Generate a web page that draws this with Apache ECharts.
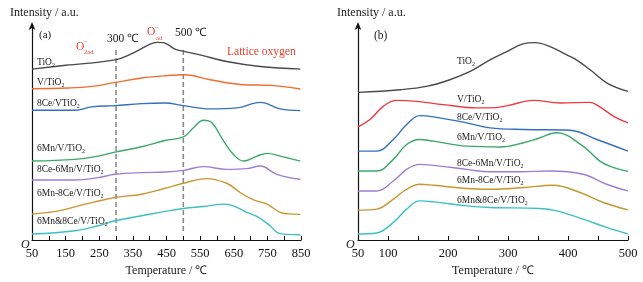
<!DOCTYPE html>
<html><head><meta charset="utf-8">
<script src="https://cdn.jsdelivr.net/npm/echarts@6/dist/echarts.min.js"></script>
<style>html,body{margin:0;padding:0;background:#fff}#c{width:643px;height:282px}</style>
</head><body><div id="c"></div>
<script>
// ---- Data (temperature ℃, intensity a.u. offset-stacked) ----
const xTicksA = [50,150,250,350,450,550,650,750,850];
const xTicksB = [50,100,200,300,400,500];
const namesA = ['TiO2','V/TiO2','8Ce/VTiO2','6Mn/V/TiO2','8Ce-6Mn/V/TiO2','6Mn-8Ce/V/TiO2','6Mn&8Ce/V/TiO2'];
const namesB = ['TiO2','V/TiO2','8Ce/V/TiO2','6Mn/V/TiO2','8Ce-6Mn/V/TiO2','6Mn-8Ce/V/TiO2','6Mn&8Ce/V/TiO2'];

const a_TiO2 = [[50,171.7],[150,175.5],[297,181],[350,187.7],[401,196.7],[422,198.5],[440,198.3],[458,195.5],[475,191.8],[505,189.3],[550,186],[629,179.3],[729,174.3],[848,171.7]];
const a_V = [[50,152],[157,152.7],[228,154.3],[297,158.3],[376,162.7],[446,165],[505,166],[580,161],[678,156],[758,155.3],[848,151.7]];
const a_Ce = [[50,130.3],[178,130.3],[228,133.7],[297,135],[376,137],[446,137.7],[500,135],[580,131.7],[659,132.7],[729,138.3],[788,131.7],[848,130]];
const a_Mn = [[50,79.3],[178,81],[247,84.3],[297,88.3],[376,93.7],[446,100],[500,103.5],[530,112.7],[560,120.3],[585,117.7],[620,99.3],[649,86],[679,79.3],[719,84.3],[749,87],[788,84.3],[848,79.3]];
const a_CeMn = [[50,60.3],[178,60.3],[247,62.7],[297,66],[376,67.7],[446,68.3],[500,70],[560,73.7],[629,71],[689,71.7],[729,74.3],[778,66],[848,61]];
const a_MnCe = [[50,26],[128,29.3],[208,36],[297,42.7],[376,46],[446,52],[500,57],[570,61.7],[629,57],[669,47.7],[709,40.3],[749,36],[788,27.7],[812,26.2],[848,25.7]];
const a_MnAndCe = [[50,6],[178,9.3],[247,14.3],[297,19.3],[376,24.3],[446,28.7],[500,31.7],[560,33.7],[624,36],[649,34.3],[689,27.7],[719,23.7],[758,14.3],[780,7.5],[805,5.6],[848,5.3]];

const b_TiO2 = [[50,148.3],[120,151],[164,154.3],[203,161],[237,169.3],[270,181],[298,189.3],[325,197],[345,198.3],[370,194.3],[398,186],[414,181],[437,171],[465,157.7],[500,149.3]];
const b_V = [[50,113.7],[70,121],[92,134.3],[114,140.3],[148,139.3],[192,136],[248,132.7],[270,132.7],[300,135],[342,140.3],[387,137.7],[437,138.3],[453,133.7],[476,124.3],[500,117.7]];
const b_Ce = [[50,89.3],[81,89.3],[109,101],[131,116],[153,125],[176,123.7],[231,117.7],[270,112.7],[326,111],[403,110.3],[448,101],[500,89.3]];
const b_Mn = [[50,69.3],[81,69.3],[109,81],[131,96],[153,101],[176,99.3],[231,94.3],[287,93.5],[326,97.7],[350,102],[381,107.7],[425,94.3],[453,79.3],[475,73],[500,69]];
const b_CeMn = [[50,49.3],[81,49.3],[109,59.3],[131,71],[153,76],[176,75],[231,71],[270,68.5],[320,68.5],[370,69.3],[425,66],[464,56],[500,49.3]];
const b_MnCe = [[50,30],[81,31],[109,41],[131,51],[153,56],[176,55],[231,51.7],[270,51],[326,52.7],[375,55],[420,47.7],[459,37.7],[500,30.3]];
const b_MnAndCe = [[50,6],[81,7],[109,17.7],[131,31],[153,39.3],[176,38.3],[231,34.3],[270,32.7],[353,31.7],[381,29.3],[425,21],[464,12.7],[500,6]];

const dashLine300 = [[300,191],[300,9]];
const dashLine500 = [[500,191],[500,9]];

// ---- Styles ----
const FONT = 'Liberation Serif';
const colorsA = ['#4a4a4a','#f26c2c','#3470c0','#3aa86a','#9b80d2','#c8962f','#3cc0c0'];
const colorsB = ['#4a4a4a','#ec3a3f','#3470c0','#3aa86a','#9b80d2','#c8962f','#3cc0c0'];
const dataA = [a_TiO2,a_V,a_Ce,a_Mn,a_CeMn,a_MnCe,a_MnAndCe];
const dataB = [b_TiO2,b_V,b_Ce,b_Mn,b_CeMn,b_MnCe,b_MnAndCe];

const chart = echarts.init(document.getElementById('c'));

function xAxis(idx, min, max, ticks) {
  return {
    type:'value', gridIndex:idx, min:min, max:max, interval:50,
    name:'Temperature / ℃', nameLocation:'middle', nameGap:25,
    nameTextStyle:{fontFamily:FONT, fontSize:12, color:'#222'},
    axisLine:{lineStyle:{color:'#111', width:1.2}},
    axisTick:{inside:true, length:4, lineStyle:{color:'#111'}},
    axisLabel:{margin:7, fontFamily:FONT, fontSize:12.5, color:'#111',
      formatter: v => ticks.indexOf(v) >= 0 ? String(v) : ''},
    splitLine:{show:false}
  };
}
function yAxis(idx) {
  return {
    type:'value', gridIndex:idx, min:0, max:216,
    axisLine:{show:true, symbol:['none','arrow'], symbolSize:[5,8], symbolOffset:[0,3], lineStyle:{color:'#111', width:1.2}},
    axisTick:{show:false}, axisLabel:{show:false}, splitLine:{show:false}
  };
}

const series = [];
dataA.forEach((d,i) => series.push({type:'line', xAxisIndex:0, yAxisIndex:0, data:d, smooth:0.4, symbol:'none',
  lineStyle:{color:colorsA[i], width:1.4}, z:3}));
dataB.forEach((d,i) => series.push({type:'line', xAxisIndex:1, yAxisIndex:1, data:d, smooth:0.4, symbol:'none',
  lineStyle:{color:colorsB[i], width:1.4}, z:3}));
[dashLine300, dashLine500].forEach(d => series.push({type:'line', xAxisIndex:0, yAxisIndex:0, data:d, symbol:'none',
  lineStyle:{color:'#8a8a8a', width:1.6, type:[5,3]}, z:2}));

function subLabel(name, x, y, size) {
  const m = name.match(/^(.*TiO)2$/);
  return {type:'text', x:x, y:y, z:10, style:{
    text:'{n|'+m[1]+'}{s|2}', verticalAlign:'middle',
    rich:{ n:{fontFamily:FONT, fontSize:size, lineHeight:12, fill:'#222', verticalAlign:'middle'},
           s:{fontFamily:FONT, fontSize:size*0.62, lineHeight:5, fill:'#222', verticalAlign:'bottom'} }
  }};
}
function txt(t, x, y, size, color, italic) {
  return {type:'text', x:x, y:y, z:10, style:{text:t, fontFamily:FONT, fontSize:size, fontStyle: italic ? 'italic' : 'normal', fill:color||'#222', verticalAlign:'middle', align:'left'}};
}
const red = '#e8412f';
const labelPosA = [[37,62],[37,82],[37,103],[37,148],[37,169],[37,193],[37,221]];
const labelPosB = [[457,61],[457,99],[457,117],[457,137],[457,163],[457,180],[457,200]];

const graphic = [];
namesA.forEach((n,i) => graphic.push(subLabel(n, labelPosA[i][0], labelPosA[i][1], 9.5)));
namesB.forEach((n,i) => graphic.push(subLabel(n, labelPosB[i][0], labelPosB[i][1], 9.5)));
graphic.push(txt('Intensity / a.u.', 10, 13, 12, '#222'));
graphic.push(txt('Intensity / a.u.', 337, 13, 12, '#222'));
graphic.push(txt('(a)', 39, 35, 11, '#222'));
graphic.push(txt('(b)', 374, 36, 11.5, '#222'));
graphic.push(txt('300 ℃', 107, 39, 11.5, '#222'));
graphic.push(txt('500 ℃', 175, 33, 11.5, '#222'));
graphic.push(txt('Lattice oxygen', 227, 52, 11.5, red));
graphic.push(txt('O', 147, 32, 11.5, red));
graphic.push(txt('−', 155, 28, 7, red));
graphic.push(txt('ad', 156, 38, 6.5, red));
graphic.push(txt('O', 76, 46.5, 11.5, red));
graphic.push(txt('−', 84, 42.5, 7, red));
graphic.push(txt('2ad', 84, 52, 6.5, red));
graphic.push(txt('O', 21, 245, 12, '#222', true));
graphic.push(txt('O', 346, 245, 12, '#222', true));

chart.setOption({
  animation:false,
  grid:[{left:32, top:25, width:269, height:216},{left:358, top:25, width:270, height:216}],
  xAxis:[xAxis(0,50,850,xTicksA), xAxis(1,50,500,xTicksB)],
  yAxis:[yAxis(0), yAxis(1)],
  series:series,
  graphic:graphic
});
</script></body></html>
